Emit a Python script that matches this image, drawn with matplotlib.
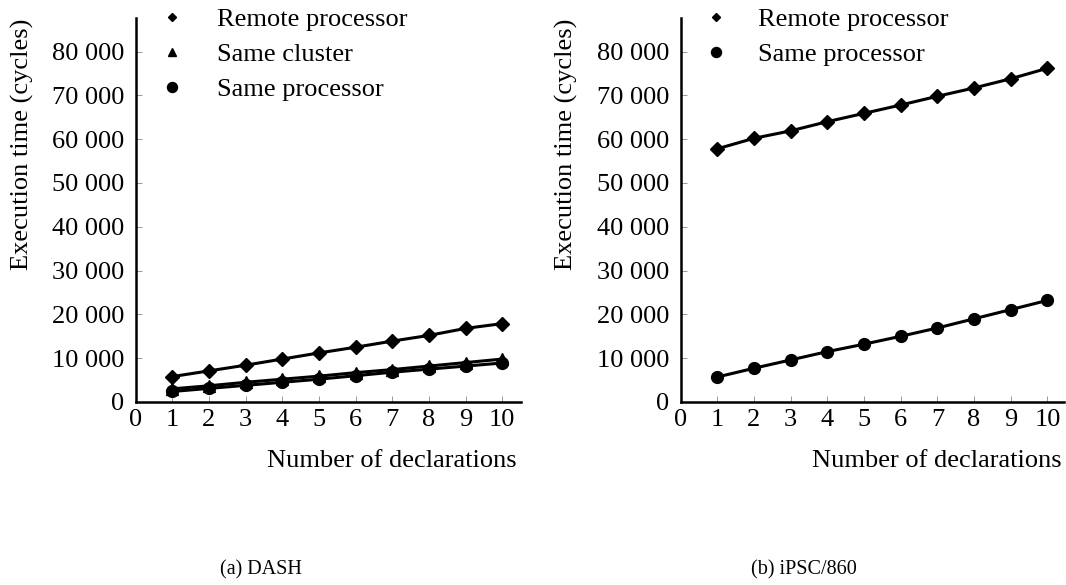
import matplotlib
matplotlib.use("Agg")
import matplotlib.pyplot as plt
from matplotlib.lines import Line2D
from matplotlib.ticker import FuncFormatter

plt.rcParams['font.family'] = ['Liberation Serif', 'DejaVu Serif']

declarations = [1, 2, 3, 4, 5, 6, 7, 8, 9, 10]

dash_remote = [5800, 7100, 8400, 9800, 11200, 12500, 13900, 15200, 16800, 17900]
dash_cluster = [3000, 3700, 4500, 5200, 5900, 6700, 7400, 8200, 9000, 9800]
dash_same = [2400, 3100, 3800, 4500, 5200, 6000, 6800, 7500, 8200, 8900]

ipsc_remote = [57800, 60200, 61900, 64000, 65900, 67800, 69800, 71700, 73800, 76200]
ipsc_same = [5700, 7700, 9600, 11500, 13200, 15000, 16900, 19000, 21100, 23200]

x_ticks = [0, 1, 2, 3, 4, 5, 6, 7, 8, 9, 10]
y_ticks = [0, 10000, 20000, 30000, 40000, 50000, 60000, 70000, 80000]

W, H = 1066, 585
fig = plt.figure(figsize=(W / 100, H / 100), dpi=100)

FS = 19

def fmt(v, pos):
    v = int(round(v))
    if v == 0:
        return "0"
    return f"{v:,}".replace(",", " ")

def setup(ax, xmax):
    ax.set_xlim(0, xmax)
    ax.set_ylim(0, 87600)
    for s in ['top', 'right']:
        ax.spines[s].set_visible(False)
    for s in ['left', 'bottom']:
        ax.spines[s].set_linewidth(1.8)
        ax.spines[s].set_color('black')
    ax.set_xticks(x_ticks)
    ax.set_yticks(y_ticks)
    ax.yaxis.set_major_formatter(FuncFormatter(fmt))
    ax.tick_params(direction='in', length=4, width=0.7, color='#999999',
                   labelsize=FS)
    ax.tick_params(axis='y', pad=8)
    ax.tick_params(axis='x', pad=5)
    ax.patch.set_visible(False)

def axes_px(x0, x1, y_top, y_bot):
    return fig.add_axes([x0 / W, 1 - y_bot / H, (x1 - x0) / W, (y_bot - y_top) / H])

ax1 = axes_px(135.5, 520.5, 18.3, 402)
ax2 = axes_px(680.5, 1064, 18.3, 402)
setup(ax1, 10.5)
setup(ax2, 10.45)

lw = 2.2
ax1.plot(declarations, dash_remote, color='black', lw=lw, marker='D', ms=7, clip_on=False)
ax1.plot(declarations, dash_cluster, color='black', lw=lw, marker='^', ms=8.5, clip_on=False)
ax1.plot(declarations, dash_same, color='black', lw=lw, marker='o', ms=8.5, clip_on=False)

ax2.plot(declarations, ipsc_remote, color='black', lw=lw, marker='D', ms=7, clip_on=False)
ax2.plot(declarations, ipsc_same, color='black', lw=lw, marker='o', ms=8.5, clip_on=False)

def leg_handle(m, ms):
    return Line2D([], [], color='black', marker=m, ms=ms, linestyle='none')

h1 = [leg_handle('D', 4.3), leg_handle('^', 6), leg_handle('o', 7.2)]
l1 = ['Remote processor', 'Same cluster', 'Same processor']
fig.legend(h1, l1, loc='upper left', bbox_to_anchor=(159 / W, 1 - 8 / H),
           frameon=False, fontsize=FS, handlelength=1.0, handletextpad=1.2,
           labelspacing=0.43, borderpad=0, borderaxespad=0)

h2 = [leg_handle('D', 4.3), leg_handle('o', 7.2)]
l2 = ['Remote processor', 'Same processor']
fig.legend(h2, l2, loc='upper left', bbox_to_anchor=(703 / W, 1 - 8 / H),
           frameon=False, fontsize=FS, handlelength=1.0, handletextpad=1.1,
           labelspacing=0.43, borderpad=0, borderaxespad=0)

for xl, xr in [(22, 517), (566, 1062)]:
    fig.text(xl / W, 1 - 144 / H, 'Execution time (cycles)', rotation=90,
             ha='center', va='center', fontsize=FS)
    fig.text(xr / W, 1 - 467 / H, 'Number of declarations', ha='right',
             va='baseline', fontsize=FS)

fig.text(260.5 / W, 1 - 570 / H, '(a) DASH', ha='center', va='center', fontsize=14.5)
fig.text(804 / W, 1 - 570 / H, '(b) iPSC/860', ha='center', va='center', fontsize=14.5)

fig.savefig('out.png', dpi=100)
